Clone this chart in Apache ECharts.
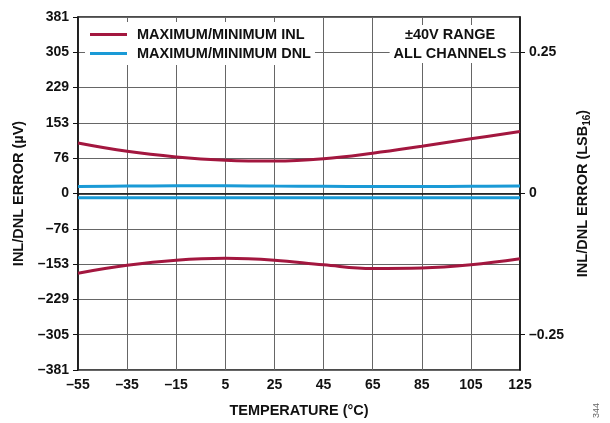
<!DOCTYPE html>
<html>
<head>
<meta charset="utf-8">
<script src="https://cdn.jsdelivr.net/npm/echarts@6/dist/echarts.min.js"></script>
<style>html,body{margin:0;padding:0;background:#fff}#c{width:610px;height:423px}</style>
</head>
<body>
<div id="c"></div>
<script>
var temperatures = ['–55','–35','–15','5','25','45','65','85','105','125'];
var inlMax = [109, 91, 79, 72, 70, 75, 87, 102, 118, 134];
var inlMin = [-172, -155, -144, -140, -144, -154, -162, -161, -154, -141];
var dnlMax = [15, 16, 16.5, 16.5, 16, 15.5, 15, 15, 15.5, 16];
var dnlMin = [-9, -9, -9, -9, -9, -9, -9, -9, -9, -9];
var leftTickLabels = ['–381','–305','–229','–153','–76','0','76','153','229','305','381'];
var rightTickValues = [-0.25, 0, 0.25];
var rightTickLabels = ['–0.25', '0', '0.25'];

var STEP = 76.2;
var INL_COLOR = '#A3173F';
var DNL_COLOR = '#1A9AD6';
var FONT = 'Liberation Sans, Arial, sans-serif';
var TICK_FS = 14;
var TITLE_FS = 14.5;

var chart = echarts.init(document.getElementById('c'), null, {renderer: 'canvas'});

function lineSeries(name, data, color) {
  return {
    name: name, type: 'line', data: data, smooth: 0.4, symbol: 'none',
    yAxisIndex: 0,
    lineStyle: {color: color, width: 3}, itemStyle: {color: color},
    z: 3
  };
}

chart.setOption({
  animation: false,
  backgroundColor: '#fff',
  grid: {left: 78, right: 90, top: 17, bottom: 52, show: true, borderColor: '#111', borderWidth: 1.5, containLabel: false},
  legend: {
    left: 85, top: 22, orient: 'vertical', itemGap: 2,
    backgroundColor: '#fff', padding: [4, 4, 3, 5],
    icon: 'rect', itemWidth: 37, itemHeight: 3,
    textStyle: {fontFamily: FONT, fontWeight: 'bold', fontSize: TITLE_FS, lineHeight: 17, color: '#111', padding: [0, 0, 0, 5]},
    data: ['MAXIMUM/MINIMUM INL', 'MAXIMUM/MINIMUM DNL']
  },
  xAxis: {
    type: 'category', data: temperatures, boundaryGap: false,
    name: 'TEMPERATURE (°C)', nameLocation: 'middle', nameGap: 33,
    nameTextStyle: {fontFamily: FONT, fontWeight: 'bold', fontSize: TITLE_FS, color: '#111'},
    axisLine: {lineStyle: {color: '#111', width: 1.5}},
    axisTick: {show: false},
    axisLabel: {interval: 0, margin: 8, fontFamily: FONT, fontWeight: 'bold', fontSize: TICK_FS, color: '#111'},
    splitLine: {show: true, interval: 0, lineStyle: {color: '#666', width: 1}}
  },
  yAxis: [{
    type: 'value', min: -5 * STEP, max: 5 * STEP, interval: STEP,
    name: 'INL/DNL ERROR (µV)', nameLocation: 'middle', nameGap: 51, nameRotate: 90,
    nameTextStyle: {fontFamily: FONT, fontWeight: 'bold', fontSize: TITLE_FS, color: '#111'},
    axisLine: {show: true, lineStyle: {color: '#111', width: 1.5}},
    axisTick: {show: true, inside: false, length: 5, lineStyle: {color: '#111'}},
    axisLabel: {
      margin: 9, fontFamily: FONT, fontWeight: 'bold', fontSize: TICK_FS, color: '#111',
      formatter: function (v) { return leftTickLabels[Math.round(v / STEP) + 5]; }
    },
    splitLine: {show: true, lineStyle: {color: '#666', width: 1}}
  }, {
    type: 'value', position: 'right', min: -0.3125, max: 0.3125,
    name: '{a|INL/DNL ERROR (LSB}{s|16}{a|)}', nameLocation: 'middle', nameGap: 54, nameRotate: 90,
    nameTextStyle: {
      fontFamily: FONT, fontWeight: 'bold', fontSize: TITLE_FS, color: '#111',
      rich: {
        a: {fontFamily: FONT, fontWeight: 'bold', fontSize: TITLE_FS, color: '#111', lineHeight: 17},
        s: {fontFamily: FONT, fontWeight: 'bold', fontSize: 10, color: '#111', padding: [7, 0, 0, 0], lineHeight: 17}
      }
    },
    axisLine: {show: true, lineStyle: {color: '#111', width: 1.5}},
    axisTick: {show: true, inside: false, length: 5, customValues: rightTickValues, lineStyle: {color: '#111'}},
    axisLabel: {
      margin: 9, fontFamily: FONT, fontWeight: 'bold', fontSize: TICK_FS, color: '#111',
      customValues: rightTickValues,
      formatter: function (v) {
        for (var i = 0; i < rightTickValues.length; i++) {
          if (Math.abs(rightTickValues[i] - v) < 1e-9) return rightTickLabels[i];
        }
        return '';
      }
    },
    splitLine: {show: false}
  }],
  graphic: [{
    type: 'text', x: 450, y: 25, z: 10,
    style: {
      text: '±40V RANGE\nALL CHANNELS', align: 'center', lineHeight: 19,
      fontFamily: FONT, fontWeight: 'bold', fontSize: TITLE_FS, fill: '#111',
      backgroundColor: '#fff', padding: [0, 4, 0, 4]
    }
  }, {
    type: 'text', left: 592, top: 403, rotation: Math.PI / 2,
    style: {text: '344', fontFamily: FONT, fontSize: 9, fill: '#666'}
  }],
  series: [
    lineSeries('MAXIMUM/MINIMUM INL', inlMax, INL_COLOR),
    lineSeries('MAXIMUM/MINIMUM INL', inlMin, INL_COLOR),
    lineSeries('MAXIMUM/MINIMUM DNL', dnlMax, DNL_COLOR),
    lineSeries('MAXIMUM/MINIMUM DNL', dnlMin, DNL_COLOR)
  ]
});
</script>
</body>
</html>
